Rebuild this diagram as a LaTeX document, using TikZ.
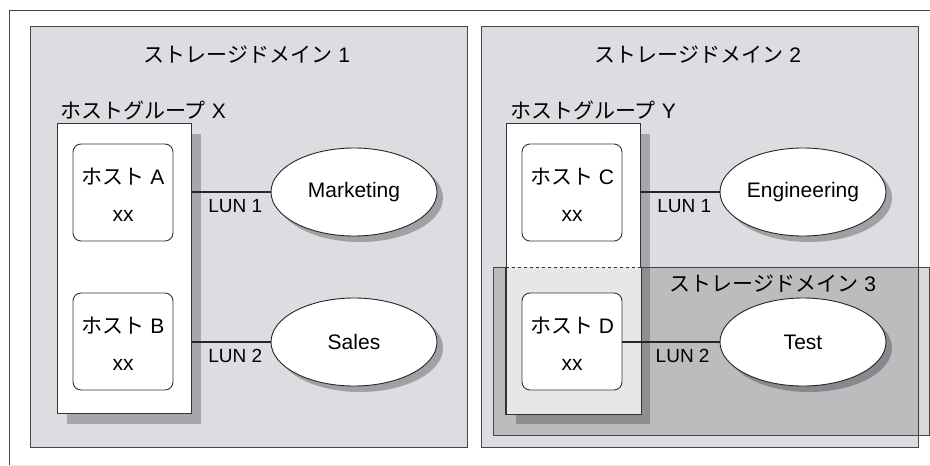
\documentclass[tikz,border=0pt]{standalone}
\usepackage{fontspec}
\setmainfont{Liberation Sans}
\newfontfamily\jp{Noto Sans CJK JP}
\usepackage{tikz}
\usetikzlibrary{positioning,shapes.geometric,shadows}
\definecolor{domfill}{RGB}{220,221,224}
\definecolor{grpshadow}{RGB}{166,167,170}
\definecolor{ellshadow}{RGB}{160,161,164}
\definecolor{darkshadow}{RGB}{136,137,140}
\definecolor{edgegray}{RGB}{70,70,72}
\definecolor{subfill}{RGB}{230,231,233}
\newcommand{\bigtxt}{\fontsize{21}{25}\selectfont}
\newcommand{\hosttxt}{\fontsize{21}{37}\selectfont}
\newcommand{\luntxt}{\fontsize{19}{22}\selectfont}
\newcommand{\hoststrut}{\rule{0pt}{21pt}}

\begin{document}
\begin{tikzpicture}[x=1pt,y=-1pt,
    stdomain/.style={draw=edgegray,line width=1.3pt,fill=domfill,anchor=north west,inner sep=0},
    hgroup/.style={draw=black!80,line width=1.2pt,fill=white,anchor=north west,inner sep=0,
      drop shadow={shadow xshift=9pt,shadow yshift=-10pt,fill=grpshadow,opacity=1}},
    host/.style={draw=black!80,line width=0.9pt,fill=white,rounded corners=8pt,
      minimum width=100pt,minimum height=97pt,inner sep=0,align=center,font=\hosttxt},
    store/.style={ellipse,draw=black!85,line width=0.9pt,fill=white,minimum width=166pt,
      minimum height=88pt,inner sep=0,font=\bigtxt,
      drop shadow={shadow xshift=6pt,shadow yshift=-6pt,fill=#1,opacity=1}},
    store/.default=ellshadow,
    title/.style={font=\bigtxt,inner sep=0,anchor=base},
    lun/.style={line width=2.2pt,draw=black!85},
    lunlabel/.style={font=\luntxt,inner sep=0,below=6pt,pos=0.55}
  ]
    \useasboundingbox (0,0) rectangle (930,466);
    % outer frame
    \draw[edgegray,line width=1pt] (930,10) -- (9,10) -- (9,466);
    \draw[black!8,line width=1pt] (9,465) -- (930,465);

    % storage domains
    \node[stdomain,minimum width=437pt,minimum height=421pt] (dom1) at (30,26) {};
    \node[stdomain,minimum width=437pt,minimum height=421pt] (dom2) at (481,26) {};
    \node[title] (t1) at (247,62.5) {{\jp ストレージドメイン} 1};
    \node[title] (t2) at (698,62.5) {{\jp ストレージドメイン} 2};

    % host groups
    \node[title,anchor=base west] (gx) at (60,118) {{\jp ホストグループ} X};
    \node[title,anchor=base west] (gy) at (510,118) {{\jp ホストグループ} Y};
    \node[hgroup,minimum width=134pt,minimum height=290pt] (grpX) at (57,123) {};
    \node[hgroup,minimum width=134pt,minimum height=290pt] (grpY) at (506,123) {};

    % storage domain 3
    \node[draw=edgegray,line width=1.3pt,fill=black,fill opacity=0.15,anchor=north west,
      inner sep=0,minimum width=436pt,minimum height=168pt] (dom3) at (493,267) {};
    \fill[subfill] (grpY.west |- dom3.north) rectangle (grpY.south east);
    \draw[black!80,line width=1.2pt] (grpY.west |- dom3.north) -- (grpY.south west)
      -- (grpY.south east) -- (grpY.east |- dom3.north);
    \draw[black!80,line width=1pt,dashed] (grpY.west |- dom3.north) -- (grpY.east |- dom3.north);
    \node[title] (t3) at (773,291.5) {{\jp ストレージドメイン} 3};

    % hosts
    \node[host] (hostA) at (123,192.5) {\hoststrut{\jp ホスト} A\\xx};
    \node[host] (hostB) at (123,341.5) {\hoststrut{\jp ホスト} B\\xx};
    \node[host] (hostC) at (572,192.5) {\hoststrut{\jp ホスト} C\\xx};
    \node[host] (hostD) at (572,341.5) {\hoststrut{\jp ホスト} D\\xx};

    % storage
    \node[store] (mkt) at (354,192) {Marketing};
    \node[store] (sales) at (354,342) {Sales};
    \node[store] (eng) at (803,192) {Engineering};
    \node[store=darkshadow] (test) at (803,342) {Test};

    \draw[lun] (grpX.east |- mkt.west) -- (mkt.west) node[lunlabel] {LUN 1};
    \draw[lun] (grpX.east |- sales.west) -- (sales.west) node[lunlabel] {LUN 2};
    \draw[lun] (grpY.east |- eng.west) -- (eng.west) node[lunlabel] {LUN 1};
    \draw[lun] (hostD.east |- test.west) -- (test.west) node[lunlabel,pos=0.62] {LUN 2};
  \end{tikzpicture}
\end{document}
